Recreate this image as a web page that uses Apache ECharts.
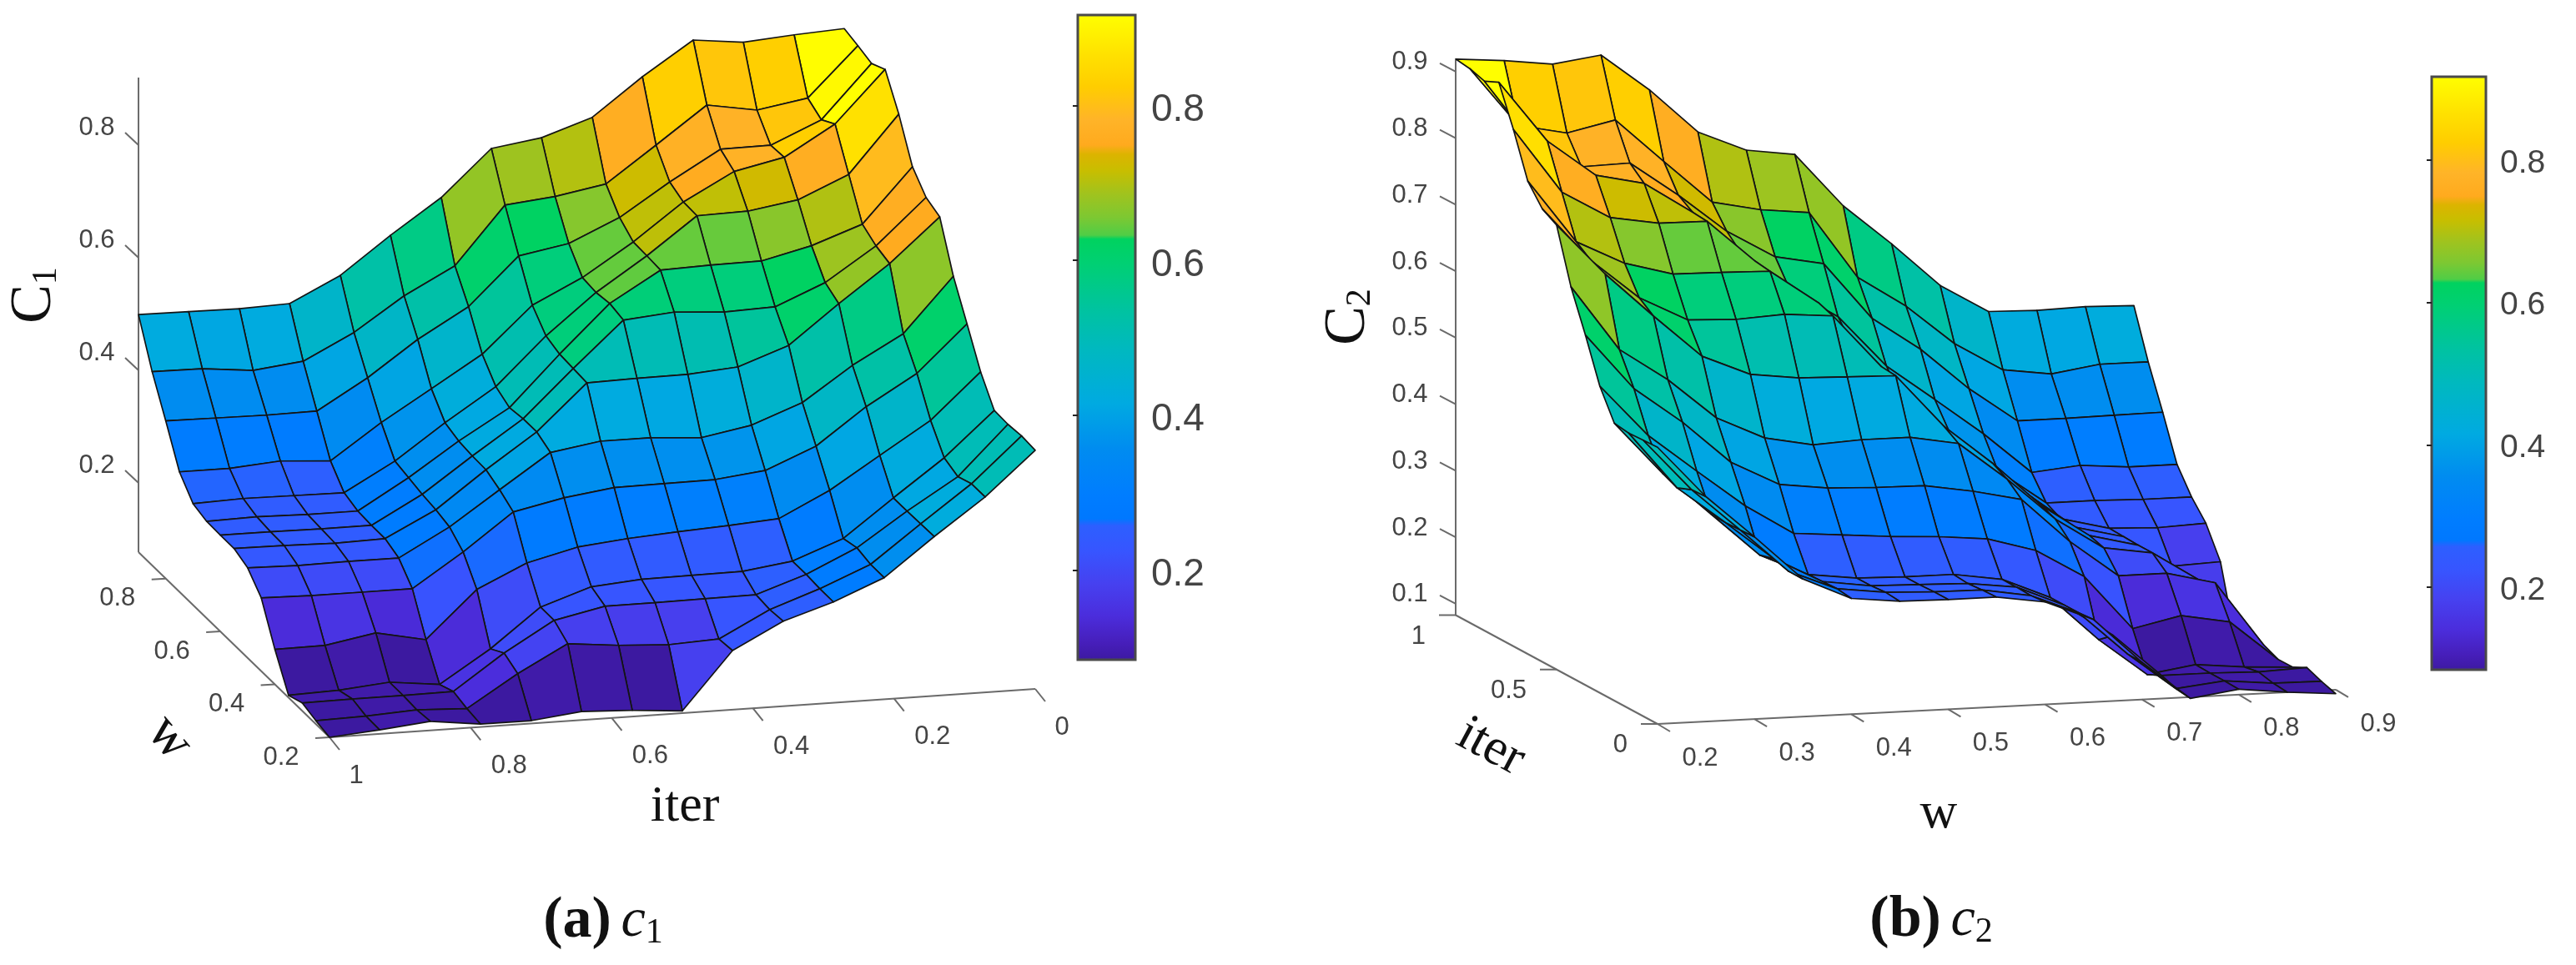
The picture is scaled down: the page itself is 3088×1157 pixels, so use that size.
<!DOCTYPE html>
<html>
<head>
<meta charset="utf-8">
<style>html,body{margin:0;padding:0;background:#fff}#chart{width:3088px;height:1157px}</style>
<script src="https://cdn.jsdelivr.net/npm/echarts@6/dist/echarts.min.js"></script>
</head>
<body>
<div id="chart"></div>
<script>
// ---------- data ----------
const iterLevels = [1,0.929,0.857,0.786,0.714,0.643,0.571,0.5,0.429,0.357,0.286,0.214,0.143,0.071,0];
const c1WLevels = [0.9,0.85,0.8,0.75,0.7,0.65,0.6,0.55,0.5,0.45,0.4,0.35,0.3,0.25,0.2];
const c2WLevels = [0.2,0.25,0.3,0.35,0.4,0.45,0.5,0.55,0.6,0.65,0.7,0.75,0.8,0.85,0.9];

const c1Values = [
 [.499,.421,.357,.290,.257,.249,.248,.248,.237,.207,.139,.081,.091,.083,.077],
 [.498,.420,.356,.290,.260,.251,.248,.247,.235,.205,.140,.084,.092,.085,.084],
 [.497,.411,.355,.297,.259,.249,.247,.245,.236,.205,.156,.092,.092,.090,.093],
 [.500,.421,.356,.291,.258,.249,.247,.247,.236,.205,.138,.082,.093,.086,.082],
 [.544,.466,.409,.353,.308,.302,.296,.292,.285,.264,.221,.139,.155,.142,.082],
 [.609,.525,.471,.407,.370,.361,.358,.357,.345,.329,.262,.207,.207,.189,.092],
 [.670,.572,.523,.462,.428,.414,.418,.418,.405,.348,.284,.237,.226,.180,.088],
 [.751,.674,.607,.543,.512,.503,.501,.499,.419,.360,.293,.244,.226,.175,.081],
 [.764,.683,.623,.586,.583,.587,.581,.501,.419,.361,.299,.245,.227,.179,.182],
 [.794,.699,.663,.643,.642,.640,.589,.502,.413,.362,.304,.246,.228,.225,.228],
 [.860,.762,.720,.708,.707,.643,.583,.509,.429,.372,.310,.258,.258,.256,.256],
 [.919,.827,.772,.756,.709,.644,.586,.541,.463,.409,.354,.292,.299,.293,.293],
 [.909,.812,.773,.775,.723,.665,.623,.609,.523,.473,.410,.358,.358,.359,.360],
 [.916,.827,.812,.828,.762,.697,.682,.674,.573,.526,.466,.423,.413,.424,.424],
 [.921,.914,.906,.919,.863,.793,.762,.751,.669,.608,.546,.501,.500,.503,.501]
];
const c2Values = [
 [.919,.913,.904,.914,.858,.791,.760,.750,.669,.608,.542,.499,.497,.499,.497],
 [.916,.827,.812,.828,.762,.697,.682,.674,.573,.526,.466,.423,.413,.424,.424],
 [.909,.812,.773,.775,.723,.665,.623,.609,.523,.473,.410,.358,.358,.359,.360],
 [.919,.827,.772,.756,.709,.644,.586,.541,.463,.409,.354,.292,.299,.293,.293],
 [.860,.762,.720,.708,.707,.643,.583,.509,.429,.372,.310,.258,.258,.256,.256],
 [.794,.699,.663,.643,.642,.640,.589,.502,.413,.362,.304,.246,.228,.225,.228],
 [.764,.683,.623,.586,.583,.587,.581,.501,.419,.361,.299,.245,.227,.179,.182],
 [.751,.674,.607,.543,.512,.503,.501,.499,.419,.360,.293,.244,.226,.175,.081],
 [.670,.572,.523,.462,.428,.414,.418,.418,.405,.348,.284,.237,.226,.180,.088],
 [.609,.525,.471,.407,.370,.361,.358,.357,.345,.329,.262,.207,.207,.189,.092],
 [.544,.466,.409,.353,.308,.302,.296,.292,.285,.264,.221,.139,.155,.142,.082],
 [.500,.421,.356,.291,.258,.249,.247,.247,.236,.205,.138,.082,.093,.086,.082],
 [.497,.411,.355,.297,.259,.249,.247,.245,.236,.205,.156,.092,.092,.090,.093],
 [.498,.420,.356,.290,.260,.251,.248,.247,.235,.205,.140,.084,.092,.085,.084],
 [.499,.421,.357,.290,.257,.249,.248,.248,.237,.207,.139,.081,.091,.083,.077]
];

const c1ZTicks = [0.2,0.4,0.6,0.8];
const c1WTicks = [0.2,0.4,0.6,0.8];
const c1IterTicks = [0,0.2,0.4,0.6,0.8,1];
const c2ZTicks = [0.1,0.2,0.3,0.4,0.5,0.6,0.7,0.8,0.9];
const c2WTicks = [0.2,0.3,0.4,0.5,0.6,0.7,0.8,0.9];
const c2IterTicks = [0,0.5,1];
const barTicks = [0.2,0.4,0.6,0.8];

const colorValues = [.084,.106,.142,.184,.225,.258,.267,.297,.357,.416,.488,.536,.596,.627,.632,.655,.685,.715,.736,.748,.781,.823,.864,.917];
const colorList = ['rgb(60,25,160)','rgb(70,30,185)','rgb(75,45,220)','rgb(70,65,240)','rgb(55,85,255)','rgb(45,95,255)','rgb(0,120,255)','rgb(0,125,255)','rgb(0,140,240)','rgb(0,170,225)','rgb(0,185,190)','rgb(0,195,160)','rgb(0,208,115)','rgb(0,210,95)','rgb(80,205,70)','rgb(125,200,50)','rgb(160,195,30)','rgb(200,190,0)','rgb(220,180,0)','rgb(255,170,30)','rgb(255,180,40)','rgb(255,205,0)','rgb(255,225,0)','rgb(255,255,0)'];

// ---------- view set-up ----------
const FONT_SANS = '"Liberation Sans", Arial, sans-serif';
const FONT_SERIF = '"Liberation Serif", "Times New Roman", serif';
const AXIS_COLOR = '#6a6a6a';
const LABEL_COLOR = '#444';

const viewA = {ox:1241, oy:826, wx:-327.1, wy:-317.2, ix:-846, iy:58, zy:-675, z0:0.077, wMin:0.2, wMax:0.9, zMax:0.92};
const viewB = {ox:1987, oy:868, wx:1161.4, wy:-58.6, ix:-242, iy:-130.5, zy:-797.5, z0:0.083, wMin:0.2, wMax:0.9, zMax:0.918};

function project(v, w, iter, z) {
  return [
    v.ox + v.wx * (w - v.wMin) + v.ix * iter,
    v.oy + v.wy * (w - v.wMin) + v.iy * iter + v.zy * (z - v.z0)
  ];
}
function colorOf(z) {
  if (z <= colorValues[0]) return colorList[0];
  for (let n = 1; n < colorValues.length; n++) {
    if (z <= colorValues[n]) {
      const t = (z - colorValues[n-1]) / (colorValues[n] - colorValues[n-1]);
      return echarts.color.lerp(t, [colorList[n-1], colorList[n]]);
    }
  }
  return colorList[colorList.length - 1];
}

function surfaceSeries(name, v, wLevels, values) {
  const cells = [];
  for (let k = 0; k < iterLevels.length - 1; k++) {
    for (let m = 0; m < wLevels.length - 1; m++) {
      const wc = (wLevels[m] + wLevels[m+1]) / 2, ic = (iterLevels[k] + iterLevels[k+1]) / 2;
      cells.push([k, m, project(v, wc, ic, v.z0)[1]]);
    }
  }
  cells.sort((a, b) => a[2] - b[2]);
  return {
    type: 'custom', name, coordinateSystem: 'cartesian2d', xAxisIndex: 0, yAxisIndex: 0,
    clip: false, silent: true, progressive: 0, animation: false, z: 3,
    data: cells,
    dimensions: ['k','m','depth'],
    encode: {x: 0, y: 1},
    renderItem(params, api) {
      const k = api.value(0), m = api.value(1);
      const corners = [[k,m],[k+1,m],[k+1,m+1],[k,m+1]];
      const pts = corners.map(c => api.coord(project(v, wLevels[c[1]], iterLevels[c[0]], values[c[0]][c[1]])));
      // each facet takes the colour of its lowest-w, lowest-iter corner
      const mLow = wLevels[m] < wLevels[m+1] ? m : m + 1;
      return {
        type: 'polygon',
        shape: {points: pts},
        style: {fill: colorOf(values[k+1][mLow]), stroke: '#141414', lineWidth: 1.7, lineJoin: 'round'}
      };
    }
  };
}

function axesSeries(name, v, marks) {
  return {
    type: 'custom', name, coordinateSystem: 'cartesian2d', xAxisIndex: 0, yAxisIndex: 0,
    clip: false, silent: true, progressive: 0, animation: false, z: 2,
    data: marks.map((m, i) => [i, 0]),
    encode: {x: 0, y: 1},
    renderItem(params, api) {
      const m = marks[params.dataIndex];
      const a = api.coord(project(v, m.p[0], m.p[1], m.p[2]));
      if (m.q) {
        const b = api.coord(project(v, m.q[0], m.q[1], m.q[2]));
        return {type:'line', shape:{x1:a[0],y1:a[1],x2:b[0],y2:b[1]}, style:{stroke:AXIS_COLOR, lineWidth:2}};
      }
      return {type:'group', children:[
        {type:'line', shape:{x1:a[0],y1:a[1],x2:a[0]+m.t[0],y2:a[1]+m.t[1]}, style:{stroke:AXIS_COLOR, lineWidth:2}},
        {type:'text', x:a[0]+m.l[0], y:a[1]+m.l[1], style:{text:m.s, fill:LABEL_COLOR, font:'31px '+FONT_SANS, align:m.a||'center', verticalAlign:'middle'}}
      ]};
    }
  };
}

const marksA = [
  {p:[0.9,1,viewA.z0], q:[0.9,1,viewA.zMax]},
  {p:[0.9,1,viewA.z0], q:[0.2,1,viewA.z0]},
  {p:[0.2,1,viewA.z0], q:[0.2,0,viewA.z0]},
  ...c1ZTicks.map(z => ({p:[0.9,1,z], t:[-16,-15], l:[-50,-20], s:String(z)})),
  ...c1WTicks.map(w => ({p:[w,1,viewA.z0], t:[-17,1], l:[-58,24], s:String(w)})),
  ...c1IterTicks.map(i => ({p:[0.2,i,viewA.z0], t:[12,15], l:[i===1||i===0?32:46,46], s:String(i)}))
];
const marksB = [
  {p:[0.2,1,viewB.z0], q:[0.2,1,viewB.zMax]},
  {p:[0.2,1,viewB.z0], q:[0.2,0,viewB.z0]},
  {p:[0.2,0,viewB.z0], q:[0.9,0,viewB.z0]},
  ...c2ZTicks.map(z => ({p:[0.2,1,z], t:[-19,-10], l:[-55,-11], s:String(z)})),
  ...c2IterTicks.map(i => ({p:[0.2,i,viewB.z0], t:[-20,0], l:[-36,25.5], a:'right', s:String(i)})),
  ...c2WTicks.map(w => ({p:[w,0,viewB.z0], t:[15,9], l:[51,41], s:String(w)}))
];

function barSeries(idx) {
  const lo = colorValues[0], hi = colorValues[colorValues.length - 1];
  const stops = colorValues.map((val, n) => ({offset: (hi - val) / (hi - lo), color: colorList[n]})).reverse();
  return {
    type:'custom', name:'colorbar'+idx, coordinateSystem:'cartesian2d', xAxisIndex:idx, yAxisIndex:idx,
    silent:true, animation:false, clip:false, z:3,
    data:[[0,lo,1,hi]],
    encode:{x:0,y:1},
    renderItem(params, api) {
      const a = api.coord([api.value(0), api.value(3)]), b = api.coord([api.value(2), api.value(1)]);
      return {type:'rect', shape:{x:a[0],y:a[1],width:b[0]-a[0],height:b[1]-a[1]},
        style:{fill:new echarts.graphic.LinearGradient(0,0,0,1,stops), stroke:'#4a4a4a', lineWidth:3}};
    }
  };
}
function barY(idx, fs, margin, lh) {
  return {gridIndex:idx, type:'value', position:'right', min:0.084, max:0.917, splitLine:{show:false},
    axisLine:{show:false},
    axisTick:{show:true, inside:true, length:6, customValues:barTicks, lineStyle:{color:'#222',width:2}},
    axisLabel:{show:true, margin, verticalAlign:'top', lineHeight:lh, color:LABEL_COLOR, fontSize:fs, fontFamily:FONT_SANS, customValues:barTicks, formatter:v=>String(v)}, z:5};
}

const titleRich = (size) => ({
  c:{fontFamily:FONT_SERIF, fontSize:size, fill:'#111', fontWeight:'normal'},
  s:{fontFamily:FONT_SERIF, fontSize:size*0.6, fill:'#111', verticalAlign:'bottom'}
});
function title(text, x, y, size, rot, italic) {
  return {type:'text', x, y, rotation:(rot||0)*Math.PI/180, z:10, silent:true,
    style:{text, fill:'#111', font:(italic?'italic ':'')+size+'px '+FONT_SERIF, align:'center', verticalAlign:'middle'}};
}
function sub(letter, digit, x, y, size, rot) {
  return {type:'text', x, y, rotation:(rot||0)*Math.PI/180, z:10, silent:true,
    style:{text:'{c|'+letter+'}{s|'+digit+'}', align:'center', verticalAlign:'middle', rich:titleRich(size)}};
}
function caption(letter, digit, x, y) {
  return {type:'text', x, y, z:10, silent:true,
    style:{text:'{b|('+letter+')}{g| }{i|c}{n|'+digit+'}', align:'center', verticalAlign:'middle',
      rich:{b:{fontFamily:FONT_SERIF,fontWeight:'bold',fontSize:70,fill:'#111'},
            g:{fontFamily:FONT_SERIF,fontSize:46,fill:'#111'},
            i:{fontFamily:FONT_SERIF,fontStyle:'italic',fontSize:66,fill:'#111'},
            n:{fontFamily:FONT_SERIF,fontSize:42,fill:'#111',verticalAlign:'bottom'}}}};
}

const chart = echarts.init(document.getElementById('chart'), null, {renderer:'canvas'});
chart.setOption({
  animation:false,
  backgroundColor:'#fff',
  grid:[
    {left:0, top:0, width:3088, height:1157},
    {left:1292, top:18, width:69, height:773},
    {left:2915, top:92, width:65, height:711}
  ],
  xAxis:[
    {gridIndex:0, type:'value', min:0, max:3088, show:false},
    {gridIndex:1, type:'value', min:0, max:1, show:false},
    {gridIndex:2, type:'value', min:0, max:1, show:false}
  ],
  yAxis:[
    {gridIndex:0, type:'value', min:0, max:1157, inverse:true, show:false},
    barY(1, 46, 19, 12),
    barY(2, 39, 17, 8)
  ],
  series:[
    axesSeries('c1 axes', viewA, marksA),
    axesSeries('c2 axes', viewB, marksB),
    surfaceSeries('c1', viewA, c1WLevels, c1Values),
    surfaceSeries('c2', viewB, c2WLevels, c2Values),
    barSeries(1),
    barSeries(2)
  ],
  graphic:{elements:[
    sub('C','1',42,354,70,90),
    title('iter',821,968,62),
    title('w',203,885,66,-50),
    caption('a','1',723,1105),
    sub('C','2',1617,380,70,90),
    title('w',2324,976,62),
    title('iter',1787,896,62,-28),
    caption('b','2',2315,1104)
  ]}
});
</script>
</body>
</html>
